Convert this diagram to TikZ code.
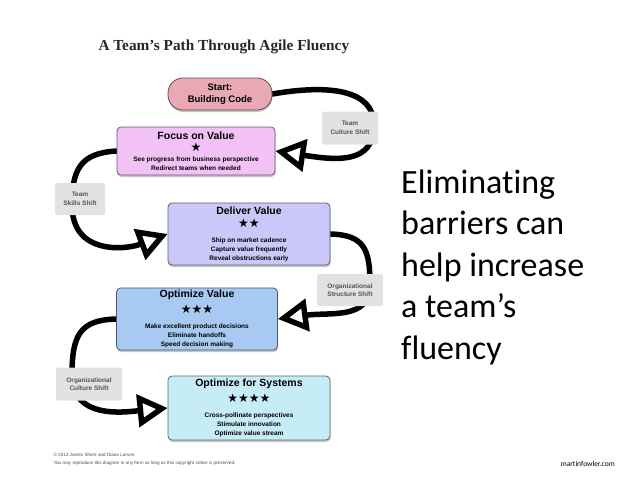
\documentclass[tikz,border=0pt]{standalone}
\usepackage{fontspec}
\setmainfont{Liberation Sans}
\newfontfamily\titlefont{Liberation Serif}
\newfontfamily\slidefont[Ligatures=NoCommon]{Carlito}
\newfontfamily\symfont{DejaVu Sans}
\usetikzlibrary{positioning}
\usetikzlibrary{arrows.meta}
\usetikzlibrary{shadows}
\usetikzlibrary{backgrounds}
\definecolor{startpink}{RGB}{232,168,180}
\definecolor{focuspink}{RGB}{242,194,246}
\definecolor{deliverblue}{RGB}{202,200,248}
\definecolor{optblue}{RGB}{168,202,242}
\definecolor{sysblue}{RGB}{198,236,246}
\definecolor{shiftgrey}{RGB}{226,226,226}
\definecolor{shifttext}{RGB}{85,85,85}
\newcommand{\fstar}{{\symfont\fontsize{12}{9}\selectfont ★}}
\newcommand{\stagehead}{\fontsize{10.5}{9}\selectfont\bfseries}
\newcommand{\stagebody}{\fontsize{6.5}{9}\selectfont\bfseries}

\begin{document}
\begin{tikzpicture}[x=1pt, y=-1pt,
    stage/.style={draw=#1!45!black, fill=#1, line width=0.8pt, rounded corners=4pt,
        align=center, inner sep=2pt, font=\stagebody,
        drop shadow={opacity=0.45, shadow xshift=0.5pt, shadow yshift=-2pt}},
    shiftlabel/.style={fill=shiftgrey, rounded corners=2pt, align=center, text=shifttext,
        font=\fontsize{6.5}{8.5}\selectfont\bfseries, inner sep=2pt},
    flow/.style={line width=5.5pt, line cap=round,
        -{Triangle[open, length=30pt, width=32pt]}}]
    \useasboundingbox (0,0) rectangle (638,479);

    % title
    \node[anchor=base west, text=black!85, font=\titlefont\bfseries\fontsize{15.3}{17}\selectfont]
        (title) at (95,50) {A Team’s Path Through Agile Fluency};

    % stages
    \node[stage=startpink, rounded corners=15pt, minimum width=104pt, minimum height=32pt,
        font=\fontsize{9.5}{11.5}\selectfont\bfseries]
        (start) at (220,94) {Start:\\Building Code};
    \node[stage=focuspink, minimum width=158pt, minimum height=48pt] (focus) at (196,151)
        {\stagehead Focus on Value\\[3pt] \fstar\\[1pt]
        See progress from business perspective\\ Redirect teams when needed};
    \node[stage=deliverblue, minimum width=162pt, minimum height=62pt] (deliver) at (249,234)
        {\stagehead Deliver Value\\[4pt] \fstar\fstar\\[6pt]
        Ship on market cadence\\ Capture value frequently\\ Reveal obstructions early};
    \node[stage=optblue, minimum width=161pt, minimum height=62pt] (optval) at (197,319)
        {\stagehead Optimize Value\\[4pt] \fstar\fstar\fstar\\[6pt]
        Make excellent product decisions\\ Eliminate handoffs\\ Speed decision making};
    \node[stage=sysblue, minimum width=162pt, minimum height=64pt] (optsys) at (249,408)
        {\stagehead Optimize for Systems\\[4pt] \fstar\fstar\fstar\fstar\\[6pt]
        Cross-pollinate perspectives\\ Stimulate innovation\\ Optimize value stream};

    % shifts between stages
    \node[shiftlabel, minimum width=56pt, minimum height=33pt] (tcs) at (350,128) {Team\\Culture Shift};
    \node[shiftlabel, minimum width=50pt, minimum height=32pt] (tss) at (80,199) {Team\\Skills Shift};
    \node[shiftlabel, minimum width=66pt, minimum height=32pt] (oss) at (350,290) {Organizational\\Structure Shift};
    \node[shiftlabel, minimum width=66pt, minimum height=33pt] (ocs) at (89,384) {Organizational\\Culture Shift};

    \begin{scope}[on background layer]
        \draw[flow] (start.east) .. controls (330,84) and (374,90) .. (374,125)
            .. controls (374,165) and (335,160) .. (focus.east);
        \draw[flow] (focus.west) .. controls (80,153) and (72,170) .. (72,205)
            .. controls (72,255) and (125,250) .. (deliver.west);
        \draw[flow] (deliver.east) .. controls (365,235) and (370,250) .. (370,285)
            .. controls (370,320) and (330,312) .. (optval.east);
        \draw[flow] (optval.west) .. controls (80,320) and (72,335) .. (72,375)
            .. controls (72,420) and (125,412) .. (optsys.west);
    \end{scope}

    % copyright
    \node[anchor=north west, align=left, text=black!70, font=\fontsize{4.6}{7.5}\selectfont]
        (copy) at (50,450) {© 2013 James Shore and Diana Larsen.\\
        You may reproduce this diagram in any form so long as this copyright notice is preserved.};

    % slide text
    \node[anchor=base west, align=left, inner sep=0pt, font=\slidefont\fontsize{34}{41.5}\selectfont]
        (msg) at (401,359) {Eliminating\\barriers can\\help increase\\a team’s\\fluency};
    \node[anchor=base east, inner sep=0pt, font=\slidefont\fontsize{7.5}{9}\selectfont]
        (site) at (615,466) {martinfowler.com};
\end{tikzpicture}
\end{document}
